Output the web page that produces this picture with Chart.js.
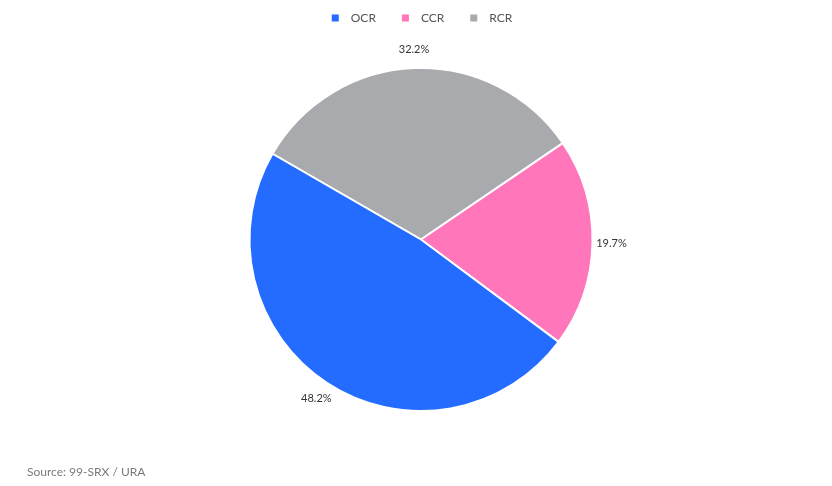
<!DOCTYPE html>
<html>
<head>
<meta charset="utf-8">
<script src="https://cdn.jsdelivr.net/npm/chart.js@4"></script>
<style>
  html, body { margin: 0; padding: 0; background: #fff; }
  #wrap { width: 832px; height: 486px; }
</style>
</head>
<body>
<div id="wrap"><canvas id="regionChart" width="832" height="486"></canvas></div>
<script>
// data
const categories = ['OCR', 'CCR', 'RCR'];
const shares = [48.2, 19.7, 32.2];
const sliceColors = ['#236CFF', '#FF76BB', '#A9AAAD'];
const sourceNote = 'Source: 99-SRX / URA';

// slices run RCR -> CCR -> OCR clockwise in the original
const drawLabels = categories.slice().reverse();
const drawValues = shares.slice().reverse();
const drawColors = sliceColors.slice().reverse();

const FONT = 'Lato, "Open Sans", sans-serif';

// percentage labels just outside each slice
const outsideLabels = {
    id: 'outsideLabels',
    afterDatasetsDraw(chart) {
        const ctx = chart.ctx;
        const meta = chart.getDatasetMeta(0);
        ctx.save();
        ctx.font = '11px ' + FONT;
        ctx.fillStyle = '#333333';
        ctx.textAlign = 'center';
        ctx.textBaseline = 'middle';
        meta.data.forEach((arc, i) => {
            const p = arc.getProps(['x', 'y', 'startAngle', 'endAngle', 'outerRadius'], true);
            const mid = (p.startAngle + p.endAngle) / 2;
            const r = p.outerRadius + 19;
            const v = chart.data.datasets[0].data[i];
            ctx.fillText(v.toFixed(1) + '%', p.x + Math.cos(mid) * r, p.y + Math.sin(mid) * r);
        });
        ctx.restore();
    }
};

// legend row on top (square, gap, label)
const topLegend = {
    id: 'topLegend',
    afterDraw(chart) {
        const ctx = chart.ctx;
        const box = 7, gap = 12, spacing = 26;
        ctx.save();
        ctx.font = '12px ' + FONT;
        ctx.textBaseline = 'middle';
        ctx.textAlign = 'left';
        const widths = categories.map(c => ctx.measureText(c).width);
        let total = 0;
        widths.forEach((w, i) => { total += box + gap + w + (i < widths.length - 1 ? spacing : 0); });
        const cx = (chart.chartArea.left + chart.chartArea.right) / 2 + 1;
        let x = cx - total / 2;
        const y = 18;
        categories.forEach((c, i) => {
            ctx.fillStyle = sliceColors[i];
            ctx.fillRect(x, y - box / 2, box, box);
            ctx.fillStyle = '#555555';
            ctx.fillText(c, x + box + gap, y + 0.5);
            x += box + gap + widths[i] + spacing;
        });
        ctx.restore();
    }
};

const chart = new Chart(document.getElementById('regionChart'), {
    type: 'pie',
    data: {
        labels: drawLabels,
        datasets: [{
            data: drawValues,
            backgroundColor: drawColors,
            borderColor: '#ffffff',
            borderWidth: 2
        }]
    },
    options: {
        responsive: false,
        animation: false,
        rotation: -60,
        layout: {
            padding: { top: 67, left: 27, right: 17, bottom: 5 }
        },
        plugins: {
            legend: { display: false },
            tooltip: { enabled: false },
            title: {
                display: true,
                text: sourceNote,
                position: 'bottom',
                align: 'start',
                color: '#7a7a7a',
                font: { family: FONT, size: 12, weight: 'normal' },
                padding: { top: 53.3, bottom: 1.3 }
            }
        }
    },
    plugins: [outsideLabels, topLegend]
});
</script>
</body>
</html>
